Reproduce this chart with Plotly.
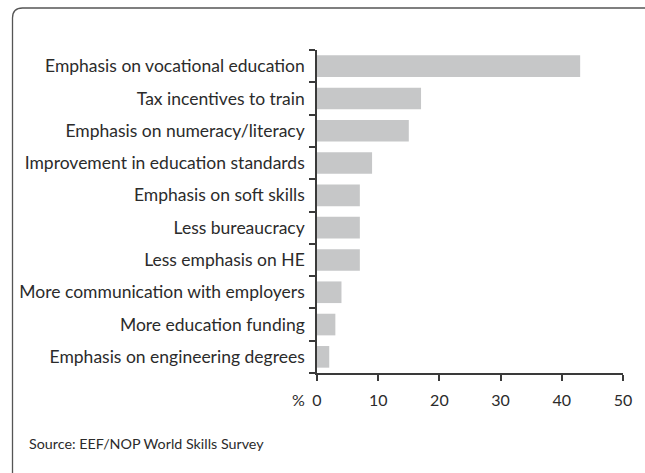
import plotly.graph_objects as go

# Survey responses (% of respondents)
categories = [
    "Emphasis on vocational education",
    "Tax incentives to train",
    "Emphasis on numeracy/literacy",
    "Improvement in education standards",
    "Emphasis on soft skills",
    "Less bureaucracy",
    "Less emphasis on HE",
    "More communication with employers",
    "More education funding",
    "Emphasis on engineering degrees",
]
values = [43, 17, 15, 9, 7, 7, 7, 4, 3, 2]
x_ticks = [0, 10, 20, 30, 40, 50]
source_text = "Source: EEF/NOP World Skills Survey"

FONT = "Lato"
TEXT = "#2b2b2b"
AXIS = "#3a3a3a"

W, H = 645, 473
L, R, T, B = 317, 22, 50, 100
pw, ph = W - L - R, H - T - B


def px_to_paper(px, py):
    return (px - L) / pw, (H - B - py) / ph


fig = go.Figure(
    go.Bar(
        x=values,
        y=categories,
        orientation="h",
        marker=dict(color="#c6c7c8", line=dict(width=0)),
        width=0.67,
        hoverinfo="x+y",
    )
)

# Rounded frame around the chart (right and bottom edges run off the page)
x0, y0 = px_to_paper(12.5, 8)
x1, y1 = px_to_paper(660, 490)
rx, ry = 10 / pw, 10 / ph
frame_path = (
    f"M {x1},{y0} L {x0 + rx},{y0} Q {x0},{y0} {x0},{y0 - ry} L {x0},{y1}"
)
fig.add_shape(
    type="path",
    path=frame_path,
    xref="paper",
    yref="paper",
    line=dict(color="#555555", width=1.3),
    layer="below",
)

fig.add_annotation(
    text="%",
    x=0,
    xref="x",
    y=0,
    yref="paper",
    xanchor="right",
    yanchor="top",
    xshift=-10,
    yshift=-15,
    showarrow=False,
    font=dict(family=FONT, size=16, color=TEXT),
)

sx, sy = px_to_paper(27, 443)
fig.add_annotation(
    text=source_text,
    x=sx,
    y=sy,
    xref="paper",
    yref="paper",
    xanchor="left",
    yanchor="middle",
    showarrow=False,
    font=dict(family=FONT, size=14.3, color=TEXT),
)

fig.update_layout(
    width=W,
    height=H,
    margin=dict(l=L, r=R, t=T, b=B),
    paper_bgcolor="white",
    plot_bgcolor="white",
    showlegend=False,
    font=dict(family=FONT, size=16, color=TEXT),
    xaxis=dict(
        range=[0, 50],
        tickvals=x_ticks,
        ticktext=[str(v) for v in x_ticks],
        showgrid=False,
        zeroline=False,
        showline=True,
        linecolor=AXIS,
        linewidth=1.5,
        ticks="outside",
        ticklen=6,
        tickwidth=1.5,
        tickcolor=AXIS,
        ticklabelstandoff=6,
        tickfont=dict(family=FONT, size=16, color=TEXT),
        fixedrange=True,
    ),
    yaxis=dict(
        categoryorder="array",
        categoryarray=categories[::-1],
        range=[-0.5, len(categories) - 0.5],
        showgrid=False,
        zeroline=False,
        showline=True,
        linecolor=AXIS,
        linewidth=1.5,
        ticks="outside",
        ticklen=6,
        tickwidth=1.5,
        tickcolor=AXIS,
        tickson="boundaries",
        ticklabelstandoff=7,
        tickfont=dict(family=FONT, size=17.5, color=TEXT),
        fixedrange=True,
    ),
)

fig.write_html("out.html")
